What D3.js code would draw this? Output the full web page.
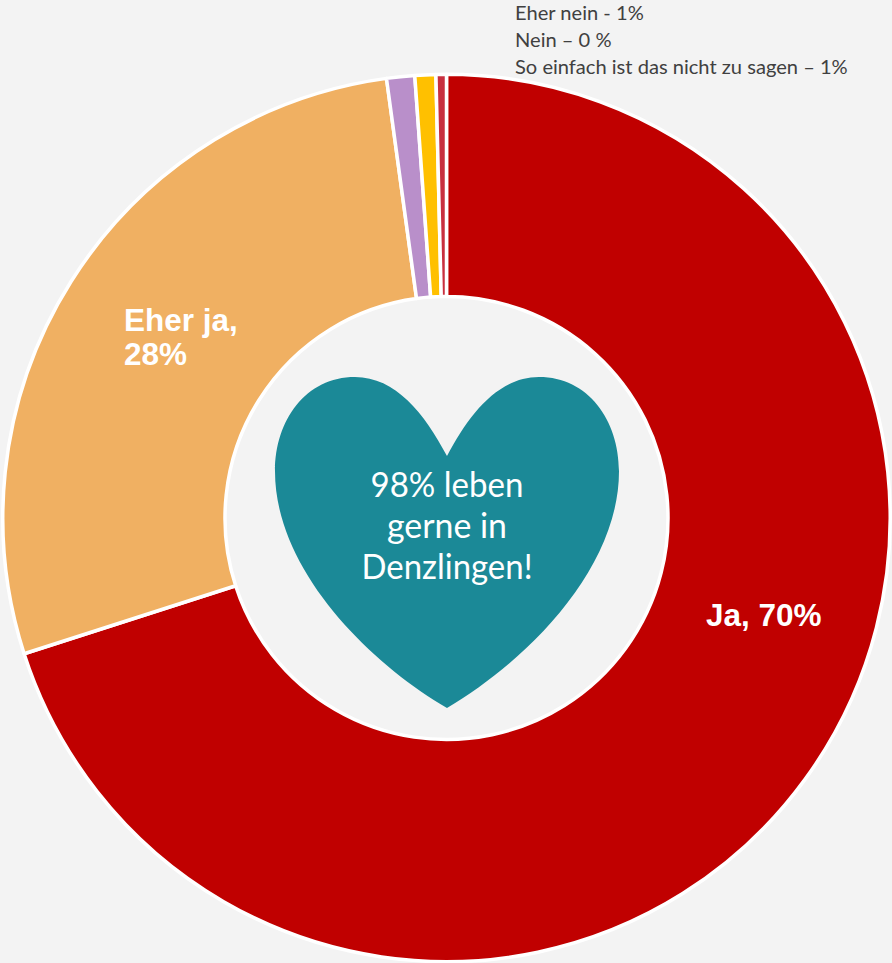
<!DOCTYPE html>
<html><head><meta charset="utf-8">
<script src="https://cdn.jsdelivr.net/npm/d3@7"></script>
<style>html,body{margin:0;padding:0;background:#f3f3f3}svg{display:block}</style>
</head><body><svg id="c" width="892" height="963"></svg>
<script>
const categories = ["Ja","Eher ja","Eher nein","Nein","So einfach ist das nicht zu sagen"];
const values = [70.05,27.79,1.02,0.76,0.38];
const colors = ["#c00000","#f0b062","#b98fca","#ffc000","#c8303f"];
const sliceLabels = [["Ja, 70%"],["Eher ja,","28%"]];
const smallLabels = ["Eher nein - 1%","Nein – 0 %","So einfach ist das nicht zu sagen – 1%"];
const heartLines = ["98% leben","gerne in","Denzlingen!"];

const svg = d3.select("#c");
const cx = 446.5, cy = 518, R = 443.7, r = 221.5;
const pie = d3.pie().sort(null).value(d=>d);
const arc = d3.arc().innerRadius(r).outerRadius(R);
const g = svg.append("g").attr("transform",`translate(${cx},${cy})`);
g.selectAll("path").data(pie(values)).join("path")
  .attr("d",arc).attr("fill",(d,i)=>colors[i])
  .attr("stroke","#fff").attr("stroke-width",3.5).attr("stroke-linejoin","round");

// heart
const hx = d3.scaleLinear().domain([-1,1]).range([275,619]);
const hy = d3.scaleLinear().domain([0,1]).range([377,708]);
const hp = d3.path();
hp.moveTo(hx(0),hy(.239));
hp.bezierCurveTo(hx(-.13),hy(.11),hx(-.30),hy(0),hx(-.535),hy(0));
hp.bezierCurveTo(hx(-.82),hy(0),hx(-1),hy(.13),hx(-1),hy(.285));
hp.bezierCurveTo(hx(-1),hy(.58),hx(-.46),hy(.86),hx(0),hy(1));
hp.bezierCurveTo(hx(.46),hy(.86),hx(1),hy(.58),hx(1),hy(.285));
hp.bezierCurveTo(hx(1),hy(.13),hx(.82),hy(0),hx(.535),hy(0));
hp.bezierCurveTo(hx(.30),hy(0),hx(.13),hy(.11),hx(0),hy(.239));
hp.closePath();
svg.append("path").attr("d",hp.toString()).attr("fill","#1b8997");

svg.append("g").selectAll("text").data(heartLines).join("text")
  .attr("x",447).attr("y",(d,i)=>497+i*41)
  .attr("text-anchor","middle").attr("fill","#fff")
  .attr("font-family","Lato, 'Open Sans', sans-serif").attr("font-size",35).attr("textLength",(d,i)=>[153,120,171][i]).attr("lengthAdjust","spacingAndGlyphs").text(d=>d);

const bold = {"font-family":"'Liberation Sans', Arial, sans-serif","font-size":31.5,"font-weight":"bold"};
function lines(sel){ for(const k in bold) sel.attr(k,bold[k]); return sel.attr("fill","#fff"); }
lines(svg.append("text").attr("x",706).attr("y",626).text(sliceLabels[0][0]));
sliceLabels[1].forEach((t,i)=>lines(svg.append("text").attr("x",124).attr("y",331+i*34).text(t)));

svg.append("g").selectAll("text").data(smallLabels).join("text")
  .attr("x",515).attr("y",(d,i)=>19.5+i*27)
  .attr("fill","#404040").attr("font-family","Lato, 'Open Sans', sans-serif").attr("font-size",20.1)
  .text(d=>d);
</script></body></html>
